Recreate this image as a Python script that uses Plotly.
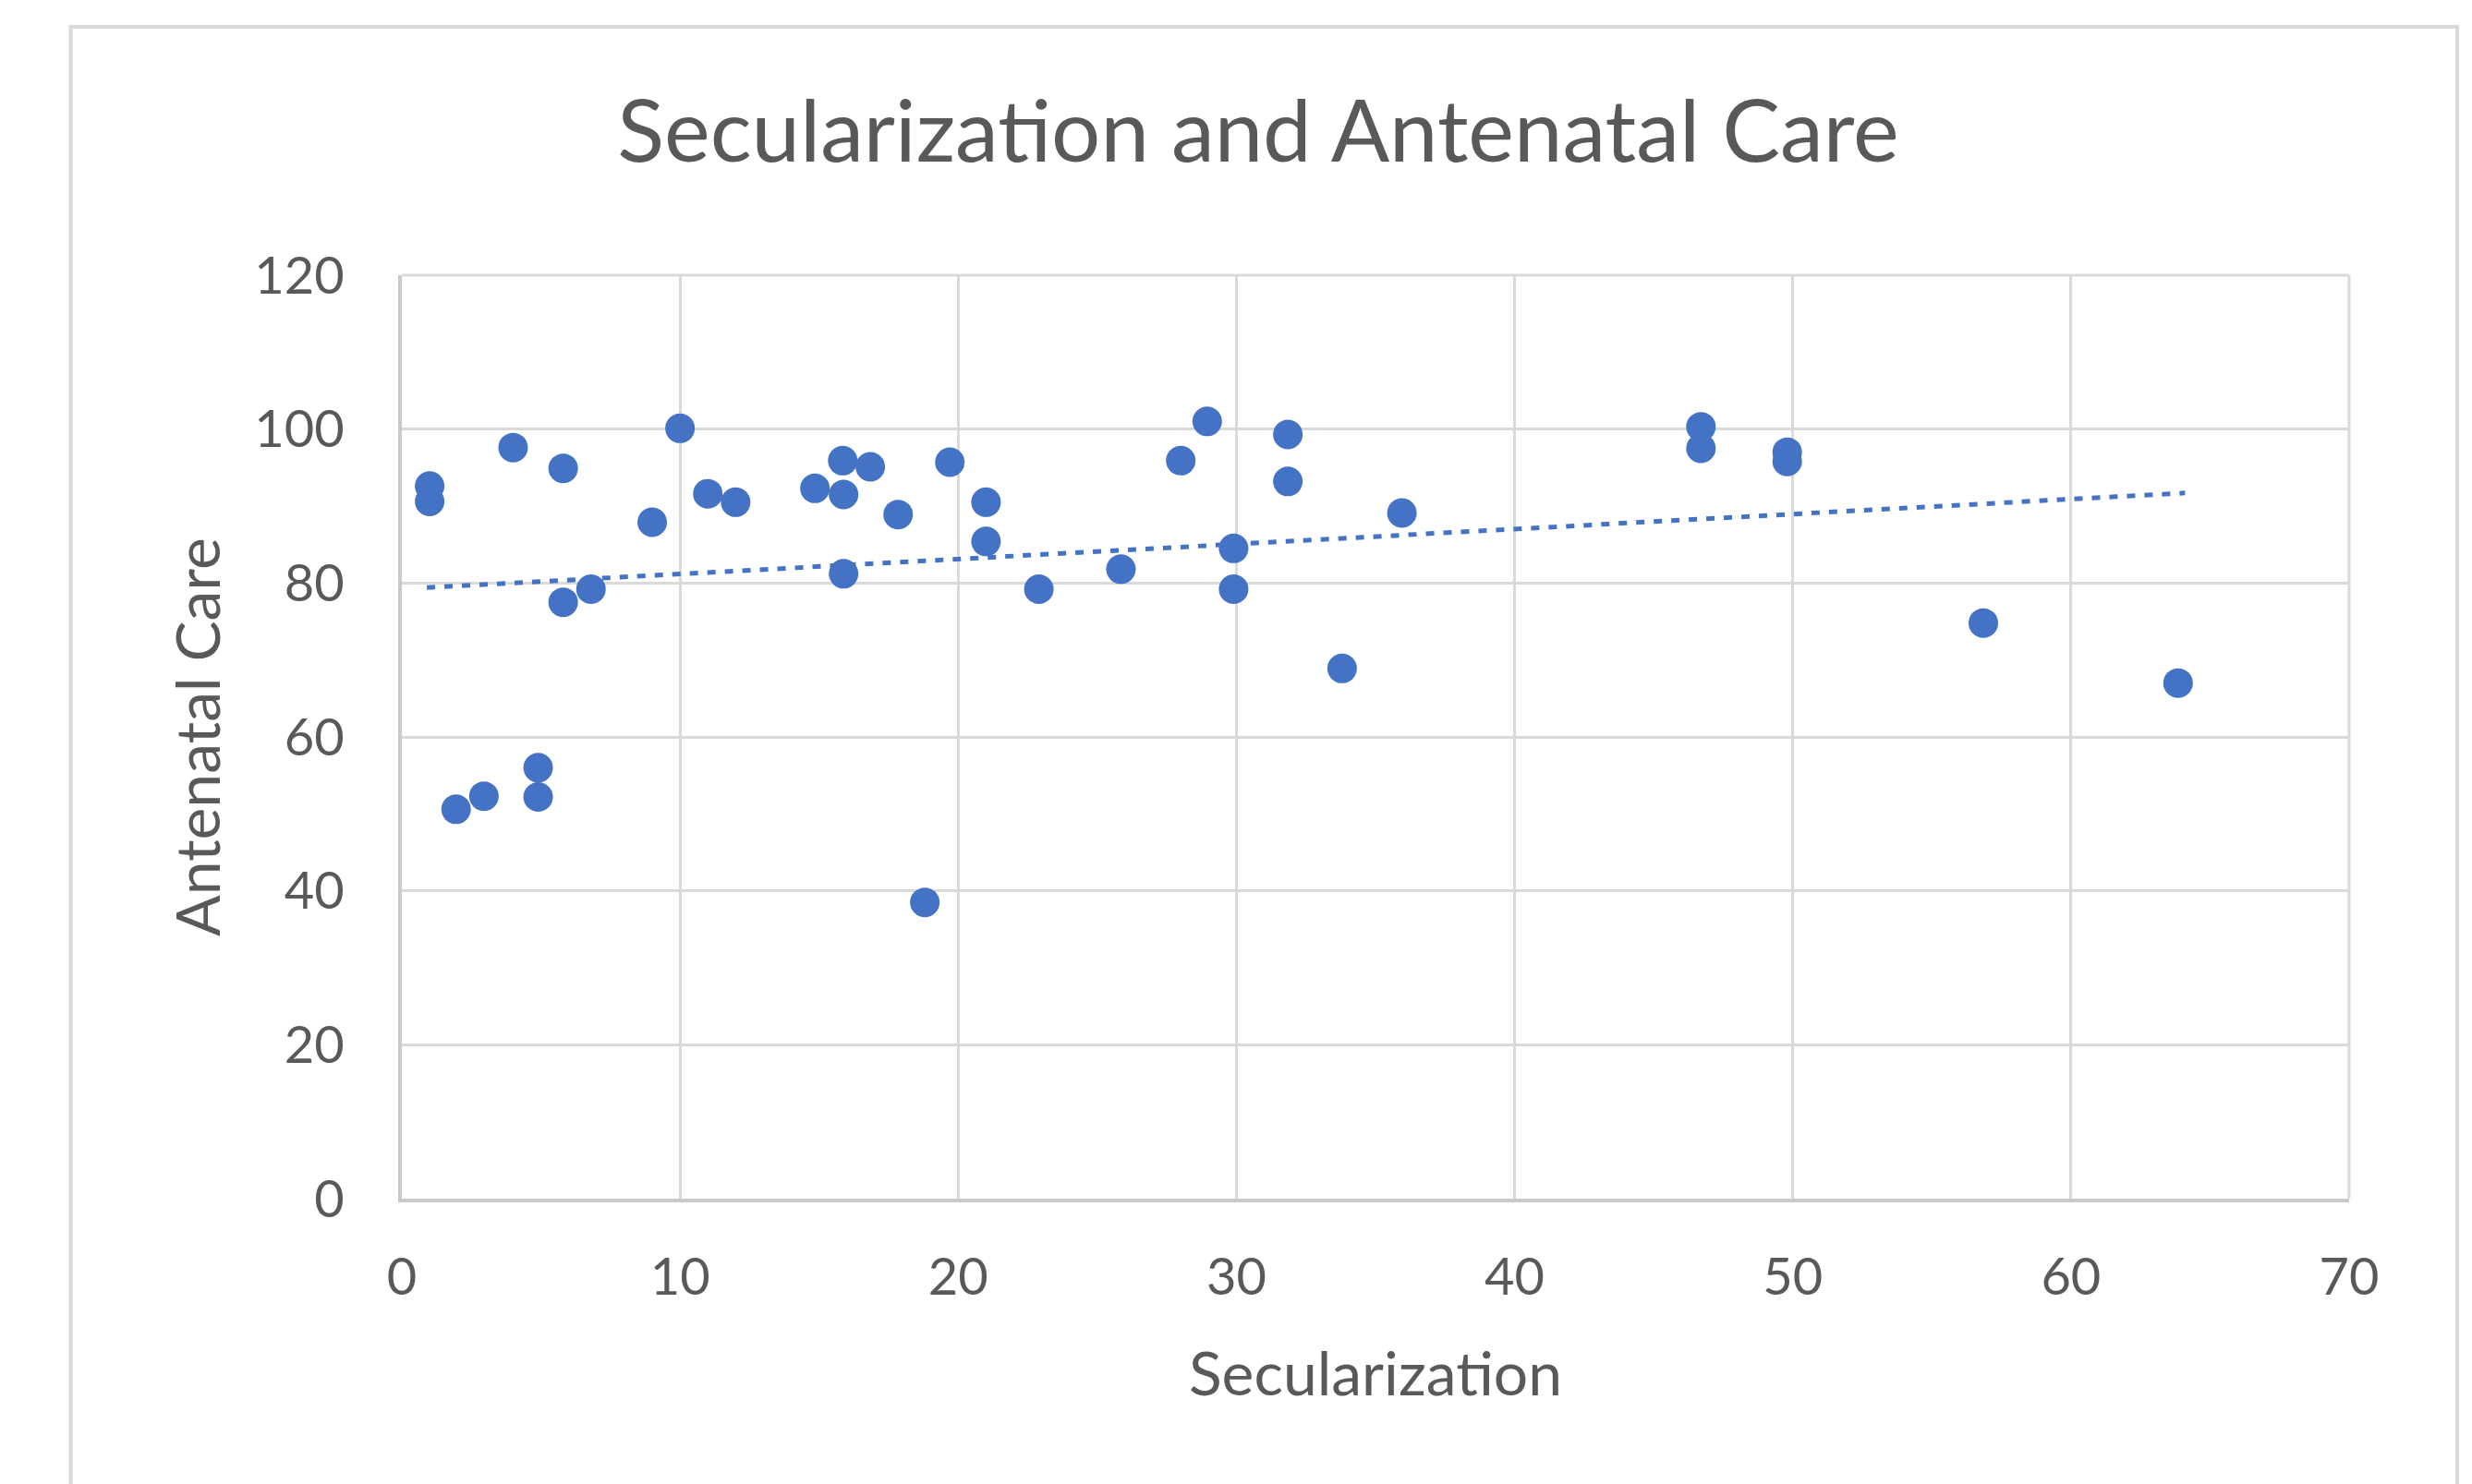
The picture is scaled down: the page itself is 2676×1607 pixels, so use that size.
import plotly.graph_objects as go

# ---- data ----
secularization = [1, 1, 4, 5.8, 10, 9, 11, 12, 14.85, 15.85, 16.84, 15.88, 17.84, 19.7,
                  21, 21, 15.88, 6.8, 5.8, 4.9, 4.9, 2.95, 1.95, 18.8, 22.9, 25.85, 28,
                  28.95, 29.9, 29.9, 31.85, 31.85, 33.8, 35.95, 46.7, 46.7, 49.8, 49.8,
                  56.85, 63.85]
antenatal_care = [92.6, 90.6, 97.6, 94.9, 100.1, 87.9, 91.6, 90.5, 92.3, 95.9, 95.1, 91.5,
                  88.9, 95.7, 90.5, 85.4, 81.2, 79.2, 77.5, 56, 52.2, 52.3, 50.6, 38.5,
                  79.2, 81.8, 95.9, 101, 84.5, 79.2, 99.3, 93.2, 68.9, 89.1, 100.3, 97.5,
                  97, 95.8, 74.8, 67]

# linear trendline endpoints
trend_x = [0.9, 64.1]
trend_y = [79.4, 91.7]

x_ticks = [0, 10, 20, 30, 40, 50, 60, 70]
y_ticks = [0, 20, 40, 60, 80, 100, 120]

title_text = "Secularization and Antenatal Care"
x_title = "Secularization"
y_title = "Antenatal Care"

BLUE = "#4472C4"
TEXT = "#595959"
GRID = "#D9D9D9"
FONT = "Lato, 'Open Sans', sans-serif"

fig = go.Figure()
fig.add_trace(go.Scatter(
    x=trend_x, y=trend_y, mode="lines",
    line=dict(color=BLUE, width=5, dash="9px,10px"),
    hoverinfo="skip", showlegend=False,
))
fig.add_trace(go.Scatter(
    x=secularization, y=antenatal_care, mode="markers",
    marker=dict(color=BLUE, size=32, line=dict(width=0)),
    showlegend=False,
))

fig.update_layout(
    width=2676, height=1607,
    margin=dict(l=427, r=141, t=290, b=317),
    paper_bgcolor="white", plot_bgcolor="white",
    font=dict(family=FONT, color=TEXT),
    title=dict(text=title_text, x=1354 / 2676, xanchor="center",
               y=1 - 134 / 1607, yanchor="middle", yref="container",
               font=dict(size=94, color=TEXT, family=FONT)),
    showlegend=False,
)

fig.update_xaxes(
    range=[0, 70], tickvals=x_ticks, ticktext=[str(v) for v in x_ticks],
    showgrid=True, gridcolor=GRID, gridwidth=3,
    zeroline=False, showline=True, linecolor="#C9C9C9", linewidth=4,
    ticks="", ticklabelstandoff=33,
    tickfont=dict(size=56, color=TEXT, family=FONT),
    title=dict(text=x_title, font=dict(size=66, color=TEXT, family=FONT), standoff=53),
)
fig.update_yaxes(
    range=[0, 120], tickvals=y_ticks, ticktext=[str(v) for v in y_ticks],
    showgrid=True, gridcolor=GRID, gridwidth=3,
    zeroline=False, showline=True, linecolor="#C9C9C9", linewidth=4,
    ticks="", ticklabelstandoff=47,
    tickfont=dict(size=56, color=TEXT, family=FONT),
    title=dict(text=y_title, font=dict(size=66, color=TEXT, family=FONT), standoff=16),
)

# top and right plot borders (gridline colour)
fig.add_shape(type="line", xref="paper", yref="paper", x0=0, x1=1, y0=1, y1=1,
              line=dict(color=GRID, width=3), layer="below")
fig.add_shape(type="line", xref="paper", yref="paper", x0=1, x1=1, y0=0, y1=1,
              line=dict(color=GRID, width=3), layer="below")

# chart area border
fig.add_shape(type="rect", xref="paper", yref="paper",
              x0=-0.170, x1=1.0555, y0=-0.36, y1=1.269,
              line=dict(color="#D9D9D9", width=4), fillcolor="rgba(0,0,0,0)",
              layer="below")

fig.write_html("out.html")
